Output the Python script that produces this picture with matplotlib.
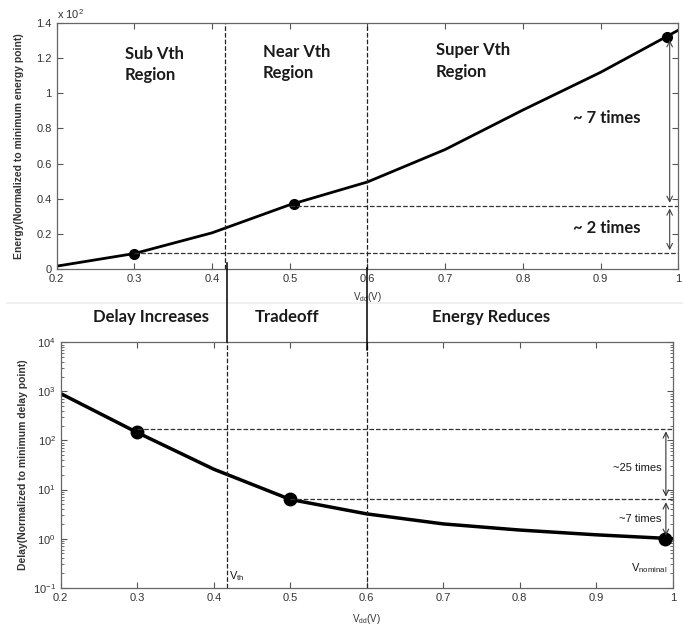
import matplotlib.pyplot as plt
import matplotlib.transforms as mtransforms
from matplotlib.lines import Line2D
from matplotlib.ticker import LogLocator, NullFormatter

# supply voltage samples (V)
vdd = [0.2, 0.3, 0.4, 0.5, 0.6, 0.7, 0.8, 0.9, 1.0]
# energy, x 10^2, normalized to minimum energy point
energy = [0.015, 0.087, 0.205, 0.365, 0.495, 0.68, 0.905, 1.12, 1.36]
# delay normalized to minimum delay point
delay = [900, 145, 26, 6.3, 3.2, 2.0, 1.5, 1.2, 1.0]

# highlighted points
e_mark_x = [0.3, 0.505, 0.985]
e_mark_y = [0.087, 0.37, 1.32]
d_mark_x = [0.3, 0.5, 0.99]
d_mark_y = [150, 6.3, 1.0]

# reference levels (dashed) and where they start
e_ref = [0.09, 0.36]
e_ref_start = [0.3, 0.5]
d_ref = [175, 6.3]
d_ref_start = [0.3, 0.5]

v_th = 0.417
v_split = 0.6

x_ticks = [0.2, 0.3, 0.4, 0.5, 0.6, 0.7, 0.8, 0.9, 1.0]
x_labels = ["0.2", "0.3", "0.4", "0.5", "0.6", "0.7", "0.8", "0.9", "1"]
e_ticks = [0, 0.2, 0.4, 0.6, 0.8, 1.0, 1.2, 1.4]
e_labels = ["0", "0.2", "0.4", "0.6", "0.8", "1", "1.2", "1.4"]

plt.rcParams['font.family'] = ['Liberation Sans', 'DejaVu Sans']
plt.rcParams['mathtext.default'] = 'regular'
bold_font = ['Lato', 'DejaVu Sans']
txt = '#1a1a1a'
tick_col = '#333333'

fig = plt.figure(figsize=(6.83, 6.28), dpi=100)
ax1 = fig.add_axes([0.083, 0.572, 0.910, 0.391])
ax2 = fig.add_axes([0.089, 0.064, 0.896, 0.391])


def style(ax):
    ax.tick_params(which='both', direction='in', top=True, right=True,
                   labelsize=8, labelcolor=tick_col, color='#555555')
    ax.tick_params(which='major', length=4)
    ax.tick_params(which='minor', length=2.5, width=0.6)
    for s in ax.spines.values():
        s.set_color('#666666')
        s.set_linewidth(0.9)


# ---- energy panel ----
ax1.plot(vdd, energy, color='black', lw=2)
ax1.plot(e_mark_x, e_mark_y, 'o', color='black', ms=7)
for y, x0 in zip(e_ref, e_ref_start):
    ax1.plot([x0, 1.0], [y, y], '--', color='#333333', lw=0.9)
for xv in [v_th, v_split]:
    ax1.axvline(xv, ls='--', color='#222222', lw=0.9)
ax1.annotate('', xy=(0.989, e_ref[0]), xytext=(0.989, e_ref[1]),
             arrowprops=dict(arrowstyle='<->', color='#444444', lw=0.8))
ax1.annotate('', xy=(0.989, e_ref[1]), xytext=(0.989, e_mark_y[2]),
             arrowprops=dict(arrowstyle='<->', color='#444444', lw=0.8))
ax1.set_xlim(0.2, 1.0)
ax1.set_ylim(0, 1.4)
ax1.set_xticks(x_ticks)
ax1.set_xticklabels(x_labels)
ax1.set_yticks(e_ticks)
ax1.set_yticklabels(e_labels)
style(ax1)
ax1.set_ylabel('Energy(Normalized to minimum energy point)', fontsize=7.5,
               fontweight='bold', color=tick_col)
ax1.yaxis.set_label_coords(-0.053, 0.5)
ax1.set_xlabel('V$_{dd}$(V)', fontsize=7, color=tick_col)
ax1.xaxis.set_label_coords(0.5, -0.085)
ax1.text(0.0, 1.01, 'x 10$^2$', transform=ax1.transAxes, fontsize=8,
         color=tick_col, va='bottom', ha='left')

ax1.text(0.288, 1.167, 'Sub Vth\nRegion', fontsize=12, fontweight='bold',
         family=bold_font, color=txt, va='center', ha='left', linespacing=1.4)
ax1.text(0.465, 1.175, 'Near Vth\nRegion', fontsize=12, fontweight='bold',
         family=bold_font, color=txt, va='center', ha='left', linespacing=1.4)
ax1.text(0.688, 1.185, 'Super Vth\nRegion', fontsize=12, fontweight='bold',
         family=bold_font, color=txt, va='center', ha='left', linespacing=1.4)
ax1.text(0.865, 0.86, '~ 7 times', fontsize=12, fontweight='bold',
         family=bold_font, color=txt, va='center', ha='left')
ax1.text(0.865, 0.233, '~ 2 times', fontsize=12, fontweight='bold',
         family=bold_font, color=txt, va='center', ha='left')

# ---- delay panel ----
ax2.semilogy(vdd, delay, color='black', lw=2.5)
ax2.plot(d_mark_x, d_mark_y, 'o', color='black', ms=9)
for y, x0 in zip(d_ref, d_ref_start):
    ax2.plot([x0, 1.0], [y, y], '--', color='#333333', lw=0.9)
for xv in [v_th, v_split]:
    ax2.axvline(xv, ls='--', color='#222222', lw=0.9)
ax2.annotate('', xy=(0.991, d_ref[1]), xytext=(0.991, d_ref[0]),
             arrowprops=dict(arrowstyle='<->', color='#333333', lw=0.8))
ax2.annotate('', xy=(0.991, d_mark_y[2]), xytext=(0.991, d_ref[1]),
             arrowprops=dict(arrowstyle='<->', color='#333333', lw=0.8))
ax2.set_xlim(0.2, 1.0)
ax2.set_ylim(0.1, 1e4)
ax2.yaxis.set_major_locator(LogLocator(base=10, numticks=10))
ax2.yaxis.set_minor_locator(LogLocator(base=10, subs=range(2, 10), numticks=50))
ax2.yaxis.set_minor_formatter(NullFormatter())
ax2.set_xticks(x_ticks)
ax2.set_xticklabels(x_labels)
style(ax2)
ax2.set_ylabel('Delay(Normalized to minimum delay point)', fontsize=7.5,
               fontweight='bold', color=tick_col)
ax2.yaxis.set_label_coords(-0.054, 0.5)
ax2.set_xlabel('V$_{dd}$(V)', fontsize=7, color=tick_col)
ax2.xaxis.set_label_coords(0.5, -0.098)

ax2.text(0.985, 27, '~25 times', fontsize=8, color=txt, va='center', ha='right')
ax2.text(0.985, 2.5, '~7 times', fontsize=8, color=txt, va='center', ha='right')
ax2.text(v_th + 0.003, 0.17, 'V$_{th}$', fontsize=8, color=txt, va='center', ha='left')
ax2.text(0.993, 0.25, 'V$_{nominal}$', fontsize=8, color=txt, va='center', ha='right')

# labels between panels
fig.text(0.221, 0.495, 'Delay Increases', fontsize=12, fontweight='bold',
         family=bold_font, color=txt, ha='center', va='center')
fig.text(0.420, 0.495, 'Tradeoff', fontsize=12, fontweight='bold',
         family=bold_font, color=txt, ha='center', va='center')
fig.text(0.719, 0.495, 'Energy Reduces', fontsize=12, fontweight='bold',
         family=bold_font, color=txt, ha='center', va='center')

fig.add_artist(Line2D([0.01, 1.0], [0.517, 0.517], color='#f0f0f0', lw=1.5))

# solid vertical connectors across the gap
blend = mtransforms.blended_transform_factory(ax2.transData, fig.transFigure)
for xv, top, bot in [(v_th, 0.581, 0.455), (v_split, 0.573, 0.443)]:
    fig.add_artist(Line2D([xv, xv], [bot, top], transform=blend,
                          color='black', lw=1.1))

fig.savefig('out.png', dpi=100)
